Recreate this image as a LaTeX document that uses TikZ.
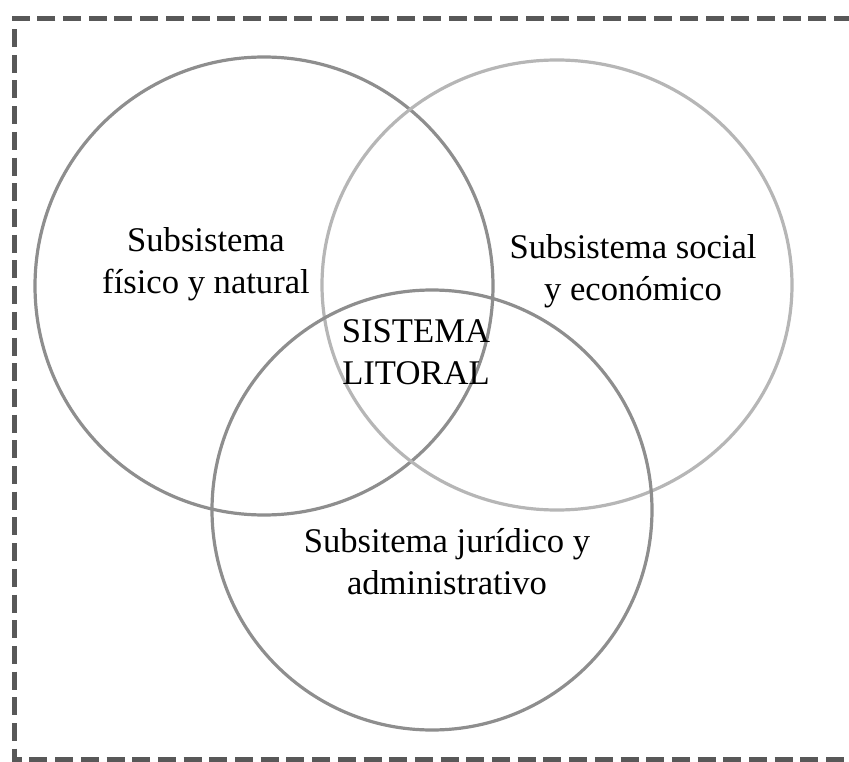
\documentclass[tikz,border=0pt]{standalone}
\usepackage{fontspec}
\usetikzlibrary{shapes.geometric}
\setmainfont{Liberation Serif}
\definecolor{ringA}{HTML}{8E8E8E}
\definecolor{ringB}{HTML}{B6B6B6}
\definecolor{frameC}{HTML}{585858}
\begin{document}
\begin{tikzpicture}[x=1pt,y=-1pt,
  ring/.style={circle, draw, line width=3.2pt, inner sep=0pt},
  lbl/.style={align=center, font=\fontsize{34.6}{41.5}\selectfont, inner sep=0pt, anchor=base, text=black}]
\useasboundingbox (0,0) rectangle (849,762);
\draw[frameC, line width=5pt, dash pattern=on 18pt off 7.7pt] (852,19) -- (14,19) -- (14,759) -- (852,759);
\node[ring, draw=ringA, minimum size=458pt] (fis) at (264,286) {};
\node[ellipse, draw=ringB, line width=3.2pt, inner sep=0pt, minimum width=470pt, minimum height=450pt] (soc) at (557,285) {};
\node[ring, draw=ringA, minimum size=440pt] (jur) at (432,510) {};
\node[lbl] (tfis) at (206,293) {Subsistema\\físico y natural};
\node[lbl] (tsoc) at (633,300) {Subsistema social\\y económico};
\node[lbl] (tlit) at (416,384) {SISTEMA\\LITORAL};
\node[lbl] (tjur) at (447,594) {Subsitema jurídico y\\administrativo};
\end{tikzpicture}
\end{document}
